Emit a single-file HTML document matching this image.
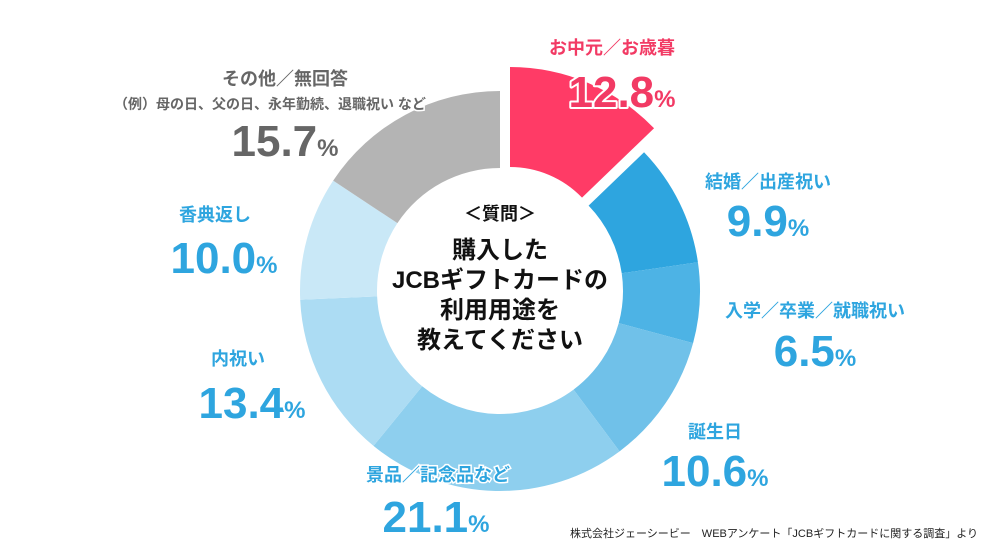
<!DOCTYPE html>
<html><head><meta charset="utf-8">
<style>
html,body{margin:0;padding:0;background:#fff;}
svg{display:block;font-family:"Liberation Sans","Noto Sans CJK JP",sans-serif;}
.lab{font-size:18px;font-weight:700;text-anchor:middle;}
.pct{font-size:44px;font-weight:700;text-anchor:middle;paint-order:stroke;stroke:#fff;stroke-width:4px;stroke-linejoin:round;}
.pct tspan{font-size:24px;}
.ctr{font-size:24px;font-weight:700;text-anchor:middle;fill:#111;}
</style></head>
<body>
<svg id="chart" width="1000" height="539" viewBox="0 0 1000 539">
<g id="slices"></g>
<g>
<text class="ctr" x="500" y="220" style="font-size:18px">＜質問＞</text>
<text class="ctr" x="500" y="258">購入した</text>
<text class="ctr" x="500" y="288">JCBギフトカードの</text>
<text class="ctr" x="500" y="318">利用用途を</text>
<text class="ctr" x="500" y="348">教えてください</text>
</g>
<g id="labels">
<text class="lab" x="612" y="54" fill="#f23a64">お中元／お歳暮</text>
<text class="pct" x="622" y="107" fill="#f23a64">12.8<tspan>%</tspan></text>
<text class="lab" x="768" y="188" fill="#2ea5df">結婚／出産祝い</text>
<text class="pct" x="768" y="236" fill="#2ea5df">9.9<tspan>%</tspan></text>
<text class="lab" x="815" y="317" fill="#2ea5df">入学／卒業／就職祝い</text>
<text class="pct" x="815" y="366" fill="#2ea5df">6.5<tspan>%</tspan></text>
<text class="lab" x="715" y="438" fill="#2ea5df">誕生日</text>
<text class="pct" x="715" y="486" fill="#2ea5df">10.6<tspan>%</tspan></text>
<text class="lab" x="438" y="481" fill="#2ea5df" stroke="#fff" stroke-width="3" paint-order="stroke">景品／記念品など</text>
<text class="pct" x="436" y="532" fill="#2ea5df">21.1<tspan>%</tspan></text>
<text class="lab" x="238" y="365" fill="#2ea5df">内祝い</text>
<text class="pct" x="252" y="418" fill="#2ea5df">13.4<tspan>%</tspan></text>
<text class="lab" x="215" y="221" fill="#2ea5df">香典返し</text>
<text class="pct" x="224" y="273" fill="#2ea5df">10.0<tspan>%</tspan></text>
<text class="lab" x="285" y="85" fill="#666">その他／無回答</text>
<text class="lab" x="270" y="109" fill="#666" style="font-size:14px" stroke="#fff" stroke-width="3" paint-order="stroke">（例）母の日、父の日、永年勤続、退職祝い など</text>
<text class="pct" x="285" y="156" fill="#666">15.7<tspan>%</tspan></text>
</g>
<text x="978" y="537" text-anchor="end" font-size="11" fill="#222">株式会社ジェーシービー　WEBアンケート「JCBギフトカードに関する調査」より</text>
</svg>
<script>
const categories = ["お中元／お歳暮","結婚／出産祝い","入学／卒業／就職祝い","誕生日","景品／記念品など","内祝い","香典返し","その他／無回答"];
const values = [12.8, 9.9, 6.5, 10.6, 21.1, 13.4, 10.0, 15.7];
const colors = ["#ff3b66","#2ea5df","#4db3e5","#70c1e9","#8ecfee","#acdcf3","#c9e8f7","#b4b4b4"];
const CX = 500, CY = 291, R = 200, RI = 123;
function angleScale(v, total){ return v / total * 2 * Math.PI; }
function pt(cx, cy, r, a){ return [cx + r * Math.sin(a), cy - r * Math.cos(a)]; }
function arcPath(cx, cy, ro, ri, a0, a1){
  const large = (a1 - a0) > Math.PI ? 1 : 0;
  const p0 = pt(cx,cy,ro,a0), p1 = pt(cx,cy,ro,a1), p2 = pt(cx,cy,ri,a1), p3 = pt(cx,cy,ri,a0);
  return `M${p0[0]},${p0[1]}A${ro},${ro} 0 ${large} 1 ${p1[0]},${p1[1]}L${p2[0]},${p2[1]}A${ri},${ri} 0 ${large} 0 ${p3[0]},${p3[1]}Z`;
}
const g = document.getElementById('slices');
const total = values.reduce((a,b)=>a+b,0);
let acc = 0;
values.forEach((v,i)=>{
  const a0 = angleScale(acc, total), a1 = angleScale(acc + v, total);
  acc += v;
  let cx = CX, cy = CY, ri = RI, s0 = a0;
  if (i === 0) { cx = CX + 10; cy = CY - 24; ri = 100; }
  const p = document.createElementNS('http://www.w3.org/2000/svg','path');
  p.setAttribute('d', arcPath(cx, cy, R, ri, s0, a1));
  p.setAttribute('fill', colors[i]);
  
  
  g.appendChild(p);
});
</script>
</body></html>
